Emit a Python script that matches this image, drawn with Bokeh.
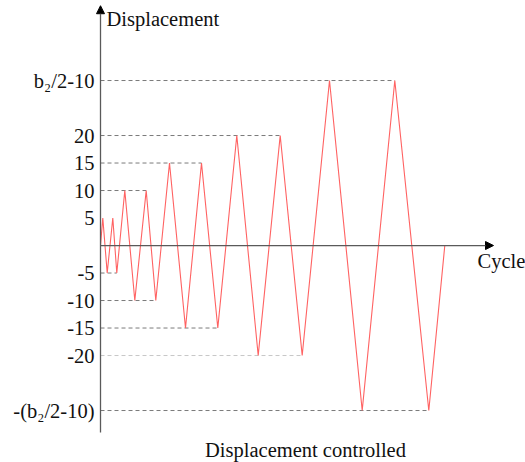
from bokeh.plotting import figure
from bokeh.models import Arrow, NormalHead, ColumnDataSource
from bokeh.core.properties import value
from bokeh.embed import file_html
from bokeh.resources import INLINE

# Symbolic amplitude standing for b2/2-10
B = 30

# Loading history: cycle position and imposed displacement at each turning point
cycle = [0, 2.3, 6.7, 12.3, 16.3, 24.3, 34.3, 45.7, 55.3, 69, 85, 101, 117.3,
         136.3, 157.7, 179.7, 201.7, 229, 261.7, 294.3, 328.3, 344.3]
displacement = [0, 5, -5, 5, -5, 10, -10, 10, -10, 15, -15, 15, -15,
                20, -20, 20, -20, B, -B, B, -B, 0]

# Amplitude levels marked on the vertical axis
tick_values = [B, 20, 15, 10, 5, -5, -10, -15, -20, -B]
tick_labels = ["b\u2082/2-10", "20", "15", "10", "5", "-5", "-10", "-15", "-20",
               "-(b\u2082/2-10)"]

# Levels that get a dashed guide from the axis to the last peak at that level
guide_levels = [B, 20, 15, 10, -5, -10, -15, -20, -B]
faint_levels = [-20]

FONT = value("Liberation Serif")
SIZE = "20.5px"

p = figure(width=525, height=462, x_range=(-100, 425), y_range=(-39.45, 44.55),
           output_backend="svg", toolbar_location=None, min_border=0,
           x_axis_type=None, y_axis_type=None)
p.outline_line_color = None
p.grid.visible = False
p.background_fill_color = "white"

# Dashed guides
for lvl in guide_levels:
    t_end = max(t for t, d in zip(cycle, displacement) if d == lvl)
    color = "#c8c8c8" if lvl in faint_levels else "#7a7a7a"
    p.line([0, t_end], [lvl, lvl], line_color=color, line_width=1,
           line_dash="4 3")

# Axes with arrow heads
p.add_layout(Arrow(end=NormalHead(size=8, fill_color="black", line_color="black"),
                   x_start=0, y_start=0, x_end=393, y_end=0,
                   line_color="#5a5a5a", line_width=1.3))
p.add_layout(Arrow(end=NormalHead(size=8, fill_color="black", line_color="black"),
                   x_start=0, y_start=-34, x_end=0, y_end=43.6,
                   line_color="#5a5a5a", line_width=1.3))

# Displacement history
p.line(cycle, displacement, line_color="#ff6262", line_width=1.1)

# Level labels
src = ColumnDataSource(dict(x=[0] * len(tick_values), y=tick_values, text=tick_labels))
p.text(x="x", y="y", text="text", source=src, x_offset=-6,
       text_align="right", text_baseline="middle", text_font=FONT,
       text_font_size=SIZE, text_color="#111111")

# Axis titles
p.text(x=[6], y=[41.1], text=["Displacement"], text_align="left",
       text_baseline="alphabetic", text_font=FONT, text_font_size=SIZE,
       text_color="#111111")
p.text(x=[377], y=[-2.9], text=["Cycle"], text_align="left",
       text_baseline="alphabetic", text_font=FONT, text_font_size=SIZE,
       text_color="#111111")
p.text(x=[205], y=[-37.1], text=["Displacement controlled"], text_align="center",
       text_baseline="alphabetic", text_font=FONT, text_font_size=SIZE,
       text_color="#111111")

open("out.html", "w").write(file_html(p, INLINE))
